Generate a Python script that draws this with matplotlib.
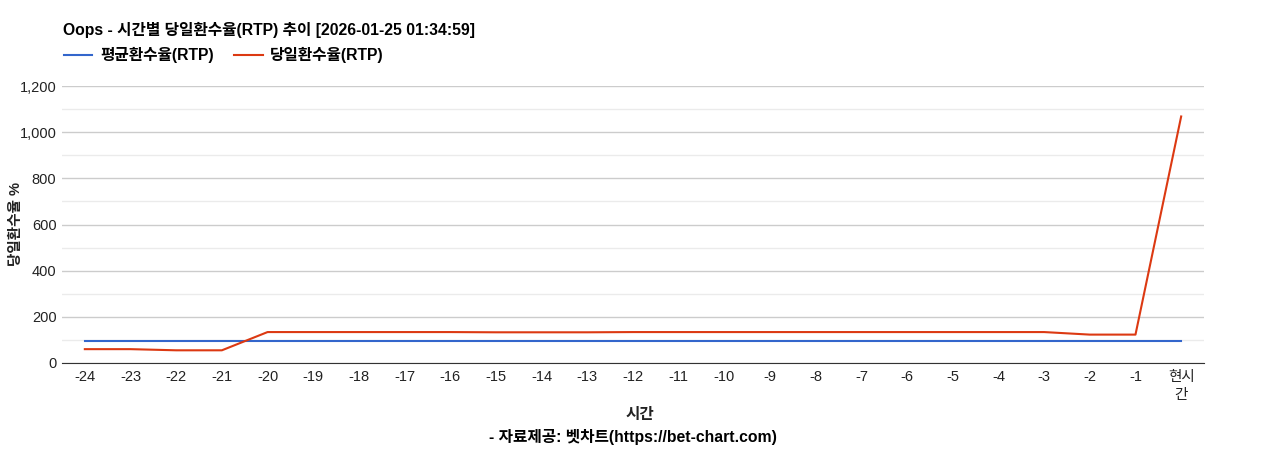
import matplotlib
matplotlib.use("Agg")
import matplotlib.pyplot as plt
from matplotlib.ticker import MultipleLocator, FuncFormatter

plt.rcParams['font.family'] = ['Liberation Sans', 'Noto Sans CJK KR', 'DejaVu Sans']

categories = ["-24", "-23", "-22", "-21", "-20", "-19", "-18", "-17", "-16", "-15",
              "-14", "-13", "-12", "-11", "-10", "-9", "-8", "-7", "-6", "-5",
              "-4", "-3", "-2", "-1", "현시\n간"]
avg_rtp = [95] * 25
today_rtp = [60, 60, 55, 55, 134, 134, 134, 134, 134, 133,
             133, 133, 134, 134, 134, 134, 134, 134, 134, 134,
             134, 134, 123, 123, 1068]

title = "Oops - 시간별 당일환수율(RTP) 추이 [2026-01-25 01:34:59]"

fig = plt.figure(figsize=(12.68, 4.5), dpi=100)
ax = fig.add_axes([62/1268, 1 - 363/450, (1204-62)/1268, (363-86)/450])

x = list(range(len(categories)))
l1, = ax.plot(x, avg_rtp, color="#3366cc", lw=1.5, label="평균환수율(RTP)")
l2, = ax.plot(x, today_rtp, color="#dc3912", lw=1.5, label="당일환수율(RTP)")

ax.set_xlim(-0.5, len(categories) - 0.5)
ax.set_ylim(0, 1200)
ax.yaxis.set_major_locator(MultipleLocator(200))
ax.yaxis.set_minor_locator(MultipleLocator(100))
ax.yaxis.set_major_formatter(FuncFormatter(lambda v, p: f"{int(v):,}"))
ax.grid(axis='y', which='major', color="#cccccc", lw=1)
ax.grid(axis='y', which='minor', color="#ebebeb", lw=1)
ax.set_axisbelow(True)
for s in ["top", "right", "left"]:
    ax.spines[s].set_visible(False)
ax.spines["bottom"].set_color("#333333")
ax.set_xticks(x)
ax.set_xticklabels(categories, fontsize=10.5, color="#222222", linespacing=1.35, va='top')
ax.tick_params(axis='both', which='both', length=0, labelsize=10.5, colors="#222222")
ax.tick_params(axis='x', pad=5)
ax.tick_params(axis='y', pad=4)

ax.set_ylabel("당일환수율 %", fontsize=10.5, fontweight='bold', color="#222222")
ax.yaxis.set_label_coords(-0.0345, 0.5)

big = 11.3
fig.text(63/1268, 1 - 30/450, title, fontsize=big, fontweight='bold', color="#000000", va='center', ha='left')
fig.legend(handles=[l1, l2], loc='center left', bbox_to_anchor=(50/1268, 1 - 55/450), ncol=2,
           frameon=False, prop={'size': big, 'weight': 'bold'}, handlelength=1.8,
           columnspacing=1.3, handletextpad=0.5)

fig.text(640/1268, 1 - 415/450, "시간", fontsize=big, fontweight='bold', color="#222222", ha='center', va='center')
fig.text(633/1268, 1 - 437/450, "- 자료제공: 벳차트(https://bet-chart.com)", fontsize=big, fontweight='bold',
         color="#000000", ha='center', va='center')

fig.savefig("out.png", dpi=100)
